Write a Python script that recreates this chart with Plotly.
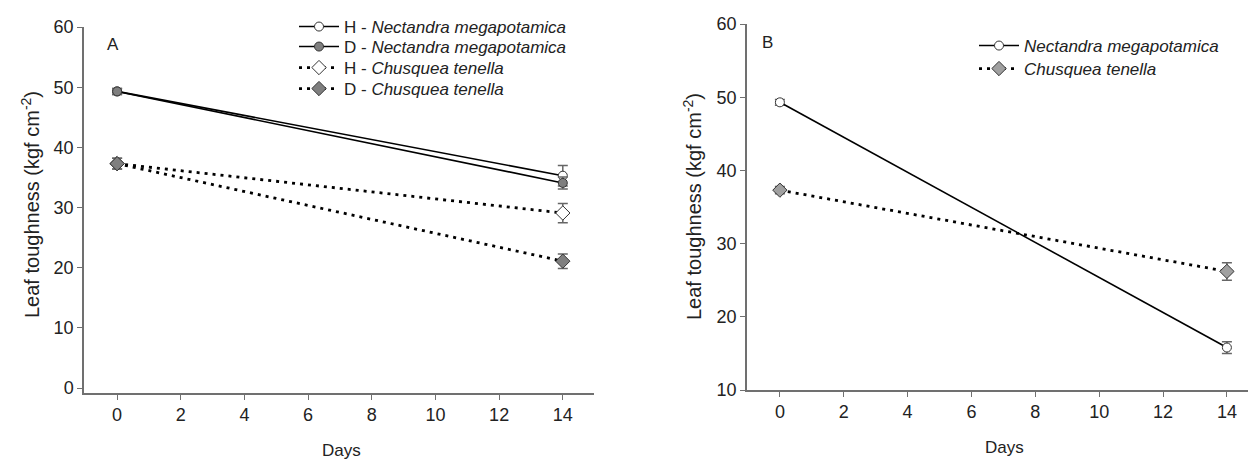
import plotly.graph_objects as go

days = [0, 14]

# Panel A
hn_vals = [49.3, 35.3]
hn_err = [0.5, 1.7]
dn_vals = [49.3, 34.1]
dn_err = [0.5, 1.0]
hc_vals = [37.3, 29.1]
hc_err = [0.9, 1.6]
dc_vals = [37.3, 21.1]
dc_err = [0.9, 1.2]

# Panel B
bn_vals = [49.3, 15.8]
bn_err = [0.4, 0.8]
bc_vals = [37.3, 26.2]
bc_err = [0.5, 1.2]

names_a = ["H - <i>Nectandra megapotamica</i>", "D - <i>Nectandra megapotamica</i>",
           "H - <i>Chusquea tenella</i>", "D - <i>Chusquea tenella</i>"]
names_b = ["<i>Nectandra megapotamica</i>", "<i>Chusquea tenella</i>"]
ytitle = "Leaf toughness (kgf cm<sup>-2</sup>)"
xtitle = "Days"

FONT = "Liberation Sans, Arial, sans-serif"
GRAY = "#7f7f7f"
DOT = "3px,5px"
OFF = 8  # default page body margin
W, H = 1256 - OFF, 460 - OFF

fig = go.Figure()

def add(x, y, err, name, dash, symbol, fill, xa, ya, legend):
    fig.add_trace(go.Scatter(
        x=x, y=y, name=name, mode="lines+markers",
        line=dict(color="black", width=1.6 if dash == "solid" else 2.8, dash=dash),
        marker=dict(symbol=symbol, size=9 if symbol == "circle" else 11,
                    color=fill, line=dict(color="#333333", width=1)),
        error_y=dict(type="data", array=err, visible=True, color="#666666",
                     thickness=1.5, width=5),
        xaxis=xa, yaxis=ya, legend=legend,
    ))

add(days, hn_vals, hn_err, names_a[0], "solid", "circle", "white", "x", "y", "legend")
add(days, dn_vals, dn_err, names_a[1], "solid", "circle", GRAY, "x", "y", "legend3")
add(days, hc_vals, hc_err, names_a[2], DOT, "diamond", "white", "x", "y", "legend4")
add(days, dc_vals, dc_err, names_a[3], DOT, "diamond", GRAY, "x", "y", "legend5")

add(days, bn_vals, bn_err, names_b[0], "solid", "circle", "white", "x2", "y2", "legend2")
add(days, bc_vals, bc_err, names_b[1], DOT, "diamond", "#a0a0a0", "x2", "y2", "legend6")

axis_common = dict(showline=True, linecolor="#707070", linewidth=1.5, ticks="outside",
                   ticklen=5, tickcolor="#707070", tickwidth=1.2, showgrid=False,
                   zeroline=False, tickfont=dict(family=FONT, size=18, color="#222"),
                   mirror=False, automargin=False)

def px(x):
    return (x - OFF) / W

def py(y):
    return 1 - (y - OFF) / H

def leg(x, y):
    return dict(x=px(x), y=py(y), xanchor="left", yanchor="middle", bgcolor="rgba(0,0,0,0)",
                font=dict(family=FONT, size=17, color="#222"), tracegroupgap=0, itemwidth=40)

fig.update_layout(
    width=W, height=H,
    margin=dict(l=0, r=0, t=0, b=0, autoexpand=False),
    paper_bgcolor="white", plot_bgcolor="white",
    font=dict(family=FONT, color="#222"),
    xaxis=dict(domain=[px(84), px(594)], range=[-1.04, 14.98], tickvals=list(range(0, 15, 2)),
               anchor="y", **axis_common),
    yaxis=dict(domain=[py(393), py(27)], range=[-0.8, 60], tickvals=list(range(0, 61, 10)),
               anchor="x", **axis_common),
    xaxis2=dict(domain=[px(747), px(1255)], range=[-1.03, 14.88], tickvals=list(range(0, 15, 2)),
                anchor="y2", **axis_common),
    yaxis2=dict(domain=[py(390), py(24)], range=[10, 60], tickvals=list(range(10, 61, 10)),
                anchor="x2", **axis_common),
    legend=leg(294, 27),
    legend3=leg(294, 47),
    legend4=leg(294, 68),
    legend5=leg(294, 89),
    legend2=leg(974, 46),
    legend6=leg(974, 69),
    showlegend=True,
    annotations=[
        dict(text="A", x=px(113), y=py(45), xref="paper", yref="paper", showarrow=False,
             font=dict(family=FONT, size=17, color="#222"), xanchor="center", yanchor="middle"),
        dict(text="B", x=px(768), y=py(42), xref="paper", yref="paper", showarrow=False,
             font=dict(family=FONT, size=17, color="#222"), xanchor="center", yanchor="middle"),
        dict(text=xtitle, x=px(341), y=py(450), xref="paper", yref="paper", showarrow=False,
             font=dict(family=FONT, size=17, color="#222"), xanchor="center", yanchor="middle"),
        dict(text=xtitle, x=px(1004), y=py(447), xref="paper", yref="paper", showarrow=False,
             font=dict(family=FONT, size=17, color="#222"), xanchor="center", yanchor="middle"),
        dict(text=ytitle, x=px(30), y=py(205), xref="paper", yref="paper", showarrow=False,
             textangle=-90, font=dict(family=FONT, size=20, color="#222"),
             xanchor="center", yanchor="middle"),
        dict(text=ytitle, x=px(693), y=py(207), xref="paper", yref="paper", showarrow=False,
             textangle=-90, font=dict(family=FONT, size=20, color="#222"),
             xanchor="center", yanchor="middle"),
    ],
)

fig.write_html("out.html")
